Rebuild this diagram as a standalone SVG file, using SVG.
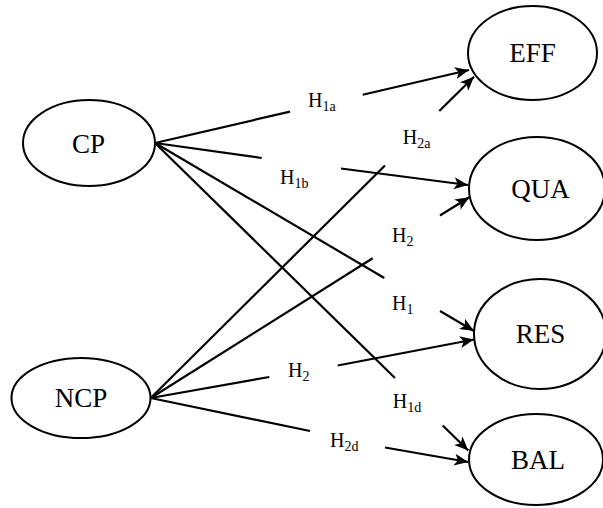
<svg xmlns="http://www.w3.org/2000/svg" width="603" height="508" viewBox="0 0 603 508">
<defs>
<marker id="arr" markerUnits="userSpaceOnUse" markerWidth="15" markerHeight="13" refX="14" refY="6.5" orient="auto">
<path d="M0,0.5 L14,6.5 L0,12.5 L3.5,6.5 z" fill="#000"/>
</marker>
<style>
.node ellipse{fill:#fff;stroke:#000;stroke-width:2}
.node text{font-family:"Liberation Serif","Times New Roman",serif;font-size:27px;text-anchor:middle;fill:#000}
.lbl{font-family:"Liberation Serif","Times New Roman",serif;font-size:20px;fill:#000}
.sub{font-size:14px}
#connectors line{stroke:#000;stroke-width:2.2;fill:none}
#connectors line.a{marker-end:url(#arr)}
</style>
</defs>
<rect width="603" height="508" fill="#fff"/>
<g id="connectors">
<line x1="155" y1="143" x2="290" y2="111.6"/>
<line class="a" x1="362.7" y1="94.7" x2="469" y2="70"/>
<line x1="155" y1="143" x2="261.7" y2="158"/>
<line class="a" x1="341" y1="168.5" x2="468" y2="185"/>
<line x1="155" y1="143" x2="384.3" y2="278"/>
<line class="a" x1="440" y1="311" x2="474" y2="331"/>
<line x1="155" y1="143" x2="395" y2="378"/>
<line class="a" x1="442.7" y1="425.5" x2="468.3" y2="450.5"/>
<line x1="150.7" y1="398" x2="385" y2="165.5"/>
<line class="a" x1="439.3" y1="111" x2="474" y2="76.7"/>
<line x1="150.7" y1="398" x2="372.7" y2="258.3"/>
<line class="a" x1="440" y1="215.5" x2="469.3" y2="197.3"/>
<line x1="150.7" y1="398" x2="269.3" y2="377"/>
<line class="a" x1="337.7" y1="365.5" x2="474" y2="339.5"/>
<line x1="150.7" y1="398" x2="310" y2="431"/>
<line class="a" x1="385" y1="447.5" x2="468.3" y2="462"/>
</g>
<g id="labels">
<text class="lbl" x="308" y="107">H<tspan class="sub" dy="4">1a</tspan></text>
<text class="lbl" x="280" y="184">H<tspan class="sub" dy="4">1b</tspan></text>
<text class="lbl" x="402.7" y="144">H<tspan class="sub" dy="4">2a</tspan></text>
<text class="lbl" x="392" y="242.3">H<tspan class="sub" dy="4">2</tspan></text>
<text class="lbl" x="392" y="310">H<tspan class="sub" dy="4">1</tspan></text>
<text class="lbl" x="288" y="377">H<tspan class="sub" dy="4">2</tspan></text>
<text class="lbl" x="392.7" y="408">H<tspan class="sub" dy="4">1d</tspan></text>
<text class="lbl" x="330" y="446.7">H<tspan class="sub" dy="4">2d</tspan></text>
</g>
<g id="CP" class="node"><ellipse cx="89" cy="143" rx="66" ry="43"/><text x="88.5" y="152.5">CP</text></g>
<g id="NCP" class="node"><ellipse cx="81" cy="398" rx="69.5" ry="40"/><text x="81" y="406.7">NCP</text></g>
<g id="EFF" class="node"><ellipse cx="532.5" cy="53" rx="64.5" ry="47"/><text x="532.5" y="62">EFF</text></g>
<g id="QUA" class="node"><ellipse cx="537" cy="188.5" rx="68" ry="51.5"/><text x="540.5" y="198">QUA</text></g>
<g id="RES" class="node"><ellipse cx="540" cy="334" rx="66" ry="55"/><text x="540.5" y="342.7">RES</text></g>
<g id="BAL" class="node"><ellipse cx="536" cy="459.5" rx="67" ry="45.5"/><text x="538" y="469">BAL</text></g>
</svg>
